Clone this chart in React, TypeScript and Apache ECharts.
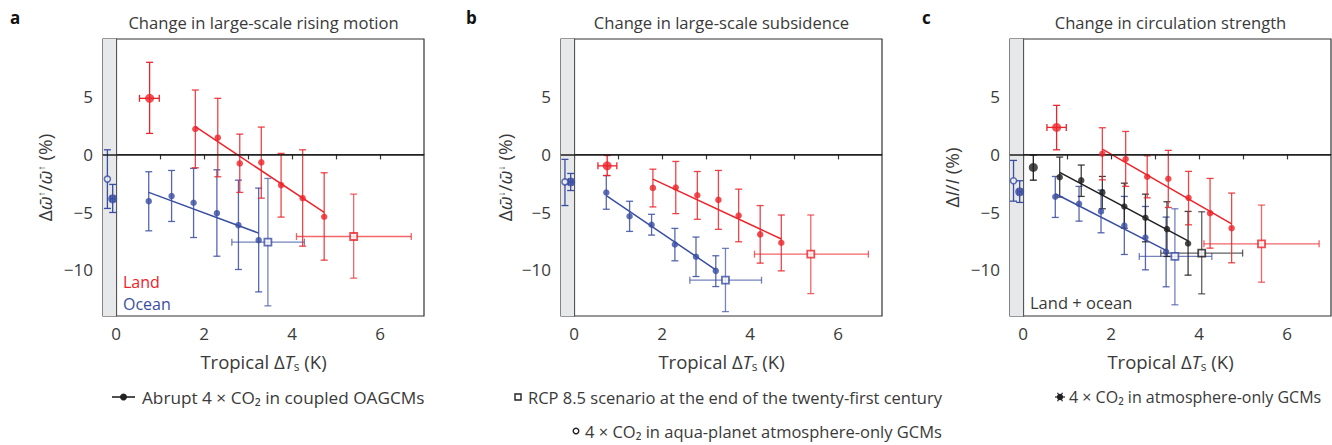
import React, { useEffect, useRef } from "react";
import * as echarts from "echarts";

// ---------- data: [x, y, yLow, yHigh] or [x, y, yLow, yHigh, xLow, xHigh] ----------
// Panel a – large-scale rising motion
const aLandAbrupt = [[1.80, 2.20, -1.16, 5.58], [2.31, 1.45, -1.94, 4.86], [2.81, -0.78, -3.29, 1.76], [3.30, -0.69, -3.79, 2.37], [3.75, -2.66, -5.43, 0.09], [4.24, -3.79, -7.95, 0.40], [4.73, -5.40, -9.16, -1.59]];
const aLandFit = [[1.80, 2.40], [4.73, -5.03]];
const aLandAtmos = [[0.76, 4.86, 1.82, 7.98, 0.53, 0.98]];
const aLandRcp = [[5.40, -7.11, -10.72, -3.44, 4.10, 6.71]];
const aOceanAbrupt = [[0.74, -4.05, -6.62, -1.50], [1.26, -3.61, -5.81, -1.39], [1.76, -4.19, -7.20, -1.21], [2.29, -5.09, -8.82, -1.33], [2.78, -6.13, -9.97, -2.23], [3.24, -7.43, -11.91, -2.92]];
const aOceanFit = [[0.74, -3.29], [3.24, -6.82]];
const aOceanAtmos = [[-0.08, -3.84, -5.03, -2.60, -0.13, -0.03]];
const aOceanAqua = [[-0.20, -2.14, -4.68, 0.40]];
const aOceanRcp = [[3.45, -7.60, -13.12, -2.08, 2.63, 4.28]];

// Panel b – large-scale subsidence
const bLandAbrupt = [[1.79, -2.90, -4.55, -1.28], [2.31, -2.87, -5.13, -0.61], [2.80, -3.54, -5.62, -1.48], [3.28, -3.94, -6.49, -1.39], [3.74, -5.30, -7.57, -3.01], [4.23, -6.93, -9.42, -4.43], [4.71, -7.65, -10.09, -5.25]];
const bLandFit = [[1.79, -2.14], [4.71, -7.33]];
const bLandAtmos = [[0.75, -0.99, -1.83, -0.09, 0.54, 0.97]];
const bLandRcp = [[5.38, -8.64, -12.06, -5.25, 4.10, 6.69]];
const bOceanAbrupt = [[0.73, -3.30, -4.75, -1.83], [1.26, -5.36, -6.67, -4.06], [1.76, -6.09, -6.99, -5.19], [2.29, -7.80, -9.22, -6.41], [2.77, -8.87, -10.58, -7.16], [3.22, -10.09, -11.45, -8.78]];
const bOceanFit = [[0.73, -3.57], [3.22, -10.0]];
const bOceanAtmos = [[-0.08, -2.38, -3.13, -1.65, -0.13, -0.03]];
const bOceanAqua = [[-0.21, -2.38, -4.43, -0.43]];
const bOceanRcp = [[3.44, -10.90, -13.62, -8.14, 2.63, 4.26]];

// Panel c – circulation strength
const cLandAbrupt = [[1.80, 0.06, -2.20, 2.31], [2.33, -0.40, -2.77, 1.99], [2.82, -1.94, -3.76, -0.12], [3.30, -2.11, -4.60, 0.35], [3.76, -3.76, -6.10, -1.47], [4.25, -5.09, -8.12, -2.08], [4.74, -6.39, -9.39, -3.35]];
const cLandFit = [[1.80, 0.46], [4.74, -6.01]];
const cLandAtmos = [[0.76, 2.34, 0.40, 4.25, 0.54, 0.98]];
const cLandRcp = [[5.42, -7.75, -11.07, -4.39, 4.11, 6.73]];
const cAllAbrupt = [[0.83, -1.97, -3.70, -0.23], [1.32, -2.25, -3.64, -0.92], [1.80, -3.29, -4.71, -1.91], [2.30, -4.51, -6.39, -2.49], [2.78, -5.49, -7.57, -3.44], [3.27, -6.47, -8.84, -4.10], [3.75, -7.72, -10.46, -4.94]];
const cAllFit = [[0.83, -1.56], [3.75, -7.49]];
const cAllAtmos = [[0.23, -1.13, -2.23, -0.06]];
const cAllRcp = [[4.06, -8.55, -12.08, -4.97, 3.13, 4.99]];
const cOceanAbrupt = [[0.73, -3.67, -5.46, -1.91], [1.27, -4.28, -5.78, -2.77], [1.77, -4.94, -6.79, -3.09], [2.30, -6.16, -8.67, -3.64], [2.78, -7.20, -10.0, -4.51], [3.25, -8.44, -11.47, -5.43]];
const cOceanFit = [[0.73, -3.41], [3.25, -8.32]];
const cOceanAtmos = [[-0.08, -3.24, -4.16, -2.28, -0.13, -0.03]];
const cOceanAqua = [[-0.22, -2.28, -4.05, -0.52]];
const cOceanRcp = [[3.45, -8.84, -13.03, -4.71, 2.64, 4.29]];

// axes
const xTickValues = [0, 1, 2, 3, 4, 5, 6];
const xLabelValues = [0, 2, 4, 6];
const yTickValues = [-10, -5, 0, 5];
const xRange = [-0.3, 7];
const yRange = [-14, 10];
const bandRange = [-0.3, 0];

const panelTitles = ["Change in large-scale rising motion", "Change in large-scale subsidence", "Change in circulation strength"];
const panelLetters = ["a", "b", "c"];

const RED = "#ec2329";
const BLUE = "#3a4ea2";
const BLACK = "#1e1e1e";
const TEXT = "#3a3a3a";
const FONT = "Open Sans";

const GRID_LEFTS = [103, 561, 1010];
const GRID_W = 321;
const GRID_TOP = 39;
const GRID_H = 277;

function errSeries(panel: number, data: number[][], color: string, hasX: boolean, opacity = 0.85) {
  return {
    type: "custom",
    xAxisIndex: panel,
    yAxisIndex: panel,
    z: 3,
    silent: true,
    data,
    renderItem: (_p: any, api: any) => {
      const x = api.value(0);
      const y = api.value(1);
      const lo = api.value(2);
      const hi = api.value(3);
      const t = api.coord([x, hi]);
      const b = api.coord([x, lo]);
      const cap = 3.5;
      const style = { stroke: color, lineWidth: 1.3, opacity };
      const children: any[] = [
        { type: "line", shape: { x1: t[0], y1: t[1], x2: b[0], y2: b[1] }, style },
        { type: "line", shape: { x1: t[0] - cap, y1: t[1], x2: t[0] + cap, y2: t[1] }, style },
        { type: "line", shape: { x1: b[0] - cap, y1: b[1], x2: b[0] + cap, y2: b[1] }, style },
      ];
      if (hasX) {
        const l = api.coord([api.value(4), y]);
        const r = api.coord([api.value(5), y]);
        children.push(
          { type: "line", shape: { x1: l[0], y1: l[1], x2: r[0], y2: r[1] }, style },
          { type: "line", shape: { x1: l[0], y1: l[1] - cap, x2: l[0], y2: l[1] + cap }, style },
          { type: "line", shape: { x1: r[0], y1: r[1] - cap, x2: r[0], y2: r[1] + cap }, style }
        );
      }
      return { type: "group", children };
    },
  };
}

function markerSeries(panel: number, data: number[][], color: string, kind: string) {
  const base: any = {
    type: "scatter",
    xAxisIndex: panel,
    yAxisIndex: panel,
    z: 5,
    silent: true,
    data: data.map((d) => [d[0], d[1]]),
  };
  if (kind === "abrupt") {
    base.symbol = "circle";
    base.symbolSize = 6.5;
    base.itemStyle = { color };
  } else if (kind === "atmos") {
    base.symbol = "circle";
    base.symbolSize = 9;
    base.itemStyle = { color };
  } else if (kind === "aqua") {
    base.symbol = "circle";
    base.symbolSize = 6;
    base.itemStyle = { color: "#ffffff", borderColor: color, borderWidth: 1.6 };
  } else {
    base.symbol = "rect";
    base.symbolSize = 7;
    base.itemStyle = { color: "#ffffff", borderColor: color, borderWidth: 1.8 };
  }
  return base;
}

function fitSeries(panel: number, data: number[][], color: string) {
  return {
    type: "line",
    xAxisIndex: panel,
    yAxisIndex: panel,
    z: 4,
    silent: true,
    symbol: "none",
    data,
    lineStyle: { color, width: 1.5 },
  };
}

function group(panel: number, color: string, g: any) {
  const s: any[] = [];
  if (g.abrupt) {
    s.push(errSeries(panel, g.abrupt, color, false));
    s.push(fitSeries(panel, g.fit, color));
    s.push(markerSeries(panel, g.abrupt, color, "abrupt"));
  }
  if (g.atmos) {
    s.push(errSeries(panel, g.atmos, color, g.atmos[0].length > 4, 1));
    s.push(markerSeries(panel, g.atmos, color, "atmos"));
  }
  if (g.aqua) {
    s.push(errSeries(panel, g.aqua, color, false, 1));
    s.push(markerSeries(panel, g.aqua, color, "aqua"));
  }
  if (g.rcp) {
    s.push(errSeries(panel, g.rcp, color, true, 0.7));
    s.push(markerSeries(panel, g.rcp, color, "rcp"));
  }
  return s;
}

const minus = (v: number) => (v < 0 ? "\u2212" + Math.abs(v) : String(v));

const yNames = [
  "Δ{o|ω̄}{s|↑}/{o|ω̄}{s|↑} (%)",
  "Δ{o|ω̄}{s|↓}/{o|ω̄}{s|↓} (%)",
  "Δ{i|I}/{i|I} (%)",
];

export default function App() {
  const ref = useRef<HTMLDivElement>(null);
  useEffect(() => {
    if (!ref.current) return;
    const chart = echarts.init(ref.current, undefined, { renderer: "svg" });

    const grids = GRID_LEFTS.map((left) => ({
      left,
      top: GRID_TOP,
      width: GRID_W,
      height: GRID_H,
      show: true,
      borderColor: "#333",
      borderWidth: 1.2,
      backgroundColor: "transparent",
    }));

    const xAxes = [0, 1, 2].map((i) => ({
      type: "value",
      gridIndex: i,
      min: xRange[0],
      max: xRange[1],
      name: "Tropical Δ{i|T}{sub|s} (K)",
      nameLocation: "middle",
      nameGap: 34,
      nameTextStyle: {
        fontFamily: FONT,
        fontSize: 18.5,
        color: TEXT,
        rich: {
          i: { fontFamily: FONT, fontSize: 18.5, fontStyle: "italic", color: TEXT },
          sub: { fontFamily: FONT, fontSize: 12, color: TEXT, padding: [10, 0, 0, 0] },
        },
      },
      axisLine: { show: true, lineStyle: { color: "#333", width: 1.2 } },
      axisTick: { show: true, length: 5, customValues: xTickValues, lineStyle: { color: "#333", width: 1.2 } },
      axisLabel: { customValues: xLabelValues, margin: 9, fontFamily: FONT, fontSize: 17, color: TEXT, formatter: minus },
      splitLine: { show: false },
    }));

    const yAxes = [0, 1, 2].map((i) => ({
      type: "value",
      gridIndex: i,
      min: yRange[0],
      max: yRange[1],
      name: yNames[i],
      nameLocation: "middle",
      nameGap: i === 1 ? 47 : 49,
      nameTextStyle: {
        fontFamily: FONT,
        fontSize: 19,
        color: TEXT,
        rich: {
          o: { fontFamily: FONT, fontSize: 19, fontStyle: "italic", color: TEXT },
          i: { fontFamily: FONT, fontSize: 19, fontStyle: "italic", color: TEXT },
          s: { fontFamily: FONT, fontSize: 10, color: TEXT, padding: [0, 0, 8, 0] },
        },
      },
      axisLine: { show: true, lineStyle: { color: "#333", width: 1.2 } },
      axisTick: { show: true, length: 5, customValues: yTickValues, lineStyle: { color: "#333", width: 1.2 } },
      axisLabel: { customValues: yTickValues, margin: 10, fontFamily: FONT, fontSize: 17, color: TEXT, formatter: minus },
      splitLine: { show: false },
    }));

    const bands = [0, 1, 2].map((i) => ({
      type: "line",
      xAxisIndex: i,
      yAxisIndex: i,
      data: [],
      silent: true,
      z: 1,
      markArea: {
        silent: true,
        itemStyle: { color: "#e7e8ea", opacity: 1, borderWidth: 0 },
        data: [[{ xAxis: bandRange[0] }, { xAxis: bandRange[1] }]],
      },
      markLine: {
        silent: true,
        symbol: "none",
        label: { show: false },
        lineStyle: { color: "#1e1e1e", width: 1.5, type: "solid" },
        data: [{ yAxis: 0 }],
      },
    }));

    const series: any[] = [
      ...bands,
      ...group(0, BLUE, { abrupt: aOceanAbrupt, fit: aOceanFit, atmos: aOceanAtmos, aqua: aOceanAqua, rcp: aOceanRcp }),
      ...group(0, RED, { abrupt: aLandAbrupt, fit: aLandFit, atmos: aLandAtmos, rcp: aLandRcp }),
      ...group(1, BLUE, { abrupt: bOceanAbrupt, fit: bOceanFit, atmos: bOceanAtmos, aqua: bOceanAqua, rcp: bOceanRcp }),
      ...group(1, RED, { abrupt: bLandAbrupt, fit: bLandFit, atmos: bLandAtmos, rcp: bLandRcp }),
      ...group(2, BLUE, { abrupt: cOceanAbrupt, fit: cOceanFit, atmos: cOceanAtmos, aqua: cOceanAqua, rcp: cOceanRcp }),
      ...group(2, BLACK, { abrupt: cAllAbrupt, fit: cAllFit, atmos: cAllAtmos, rcp: cAllRcp }),
      ...group(2, RED, { abrupt: cLandAbrupt, fit: cLandFit, atmos: cLandAtmos, rcp: cLandRcp }),
    ];

    const txt = (x: number, y: number, text: string, extra: any = {}) => ({
      type: "text",
      x,
      y,
      silent: true,
      style: {
        text,
        fontFamily: FONT,
        fontSize: 16.5,
        fill: TEXT,
        verticalAlign: "middle",
        textAlign: "left",
        ...extra,
      },
    });

    const line = (x1: number, y1: number, x2: number, y2: number, stroke = TEXT, lineWidth = 1.5) => ({
      type: "line",
      silent: true,
      shape: { x1, y1, x2, y2 },
      style: { stroke, lineWidth },
    });

    const graphics: any[] = [];
    GRID_LEFTS.forEach((left, i) => {
      graphics.push(txt(left + GRID_W / 2, 22, panelTitles[i], { textAlign: "center", fontSize: 16.6 }));
    });
    graphics.push(txt(10, 17, panelLetters[0], { fontWeight: "bold", fontSize: 17, fill: "#111" }));
    graphics.push(txt(466, 17, panelLetters[1], { fontWeight: "bold", fontSize: 17, fill: "#111" }));
    graphics.push(txt(922, 17, panelLetters[2], { fontWeight: "bold", fontSize: 17, fill: "#111" }));
    graphics.push(txt(123, 282, "Land", { fill: RED, fontSize: 16 }));
    graphics.push(txt(123, 304, "Ocean", { fill: BLUE, fontSize: 16 }));
    graphics.push(txt(1030, 302, "Land + ocean", { fontSize: 16.5 }));

    // legend
    graphics.push(line(112, 397, 135, 397, "#222", 1.6));
    graphics.push({ type: "circle", silent: true, shape: { cx: 123.5, cy: 397, r: 3.5 }, style: { fill: "#222" } });
    graphics.push(txt(142, 397, "Abrupt 4 × CO₂ in coupled OAGCMs", { fontSize: 17.2 }));
    graphics.push({ type: "rect", silent: true, shape: { x: 515, y: 394, width: 6, height: 6 }, style: { fill: "#fff", stroke: "#222", lineWidth: 1.4 } });
    graphics.push(txt(528, 397, "RCP 8.5 scenario at the end of the twenty-first century"));
    graphics.push({ type: "circle", silent: true, shape: { cx: 1060, cy: 397, r: 3.2 }, style: { fill: "#222" } });
    graphics.push(line(1055, 397, 1065, 397, "#222", 1.2));
    graphics.push(line(1057.5, 392.7, 1062.5, 401.3, "#222", 1.2));
    graphics.push(line(1057.5, 401.3, 1062.5, 392.7, "#222", 1.2));
    graphics.push(txt(1069, 397, "4 × CO₂ in atmosphere-only GCMs", { fontSize: 16 }));
    graphics.push({ type: "circle", silent: true, shape: { cx: 576, cy: 431, r: 2.8 }, style: { fill: "#fff", stroke: "#222", lineWidth: 1.4 } });
    graphics.push(txt(585, 431, "4 × CO₂ in aqua-planet atmosphere-only GCMs"));

    chart.setOption({
      animation: false,
      grid: grids,
      xAxis: xAxes,
      yAxis: yAxes,
      series,
      graphic: { elements: graphics },
    });
    return () => chart.dispose();
  }, []);

  return (
    <div
      ref={ref}
      style={{ position: "absolute", left: 0, top: 0, width: 1332, height: 445, background: "#fff" }}
    />
  );
}
